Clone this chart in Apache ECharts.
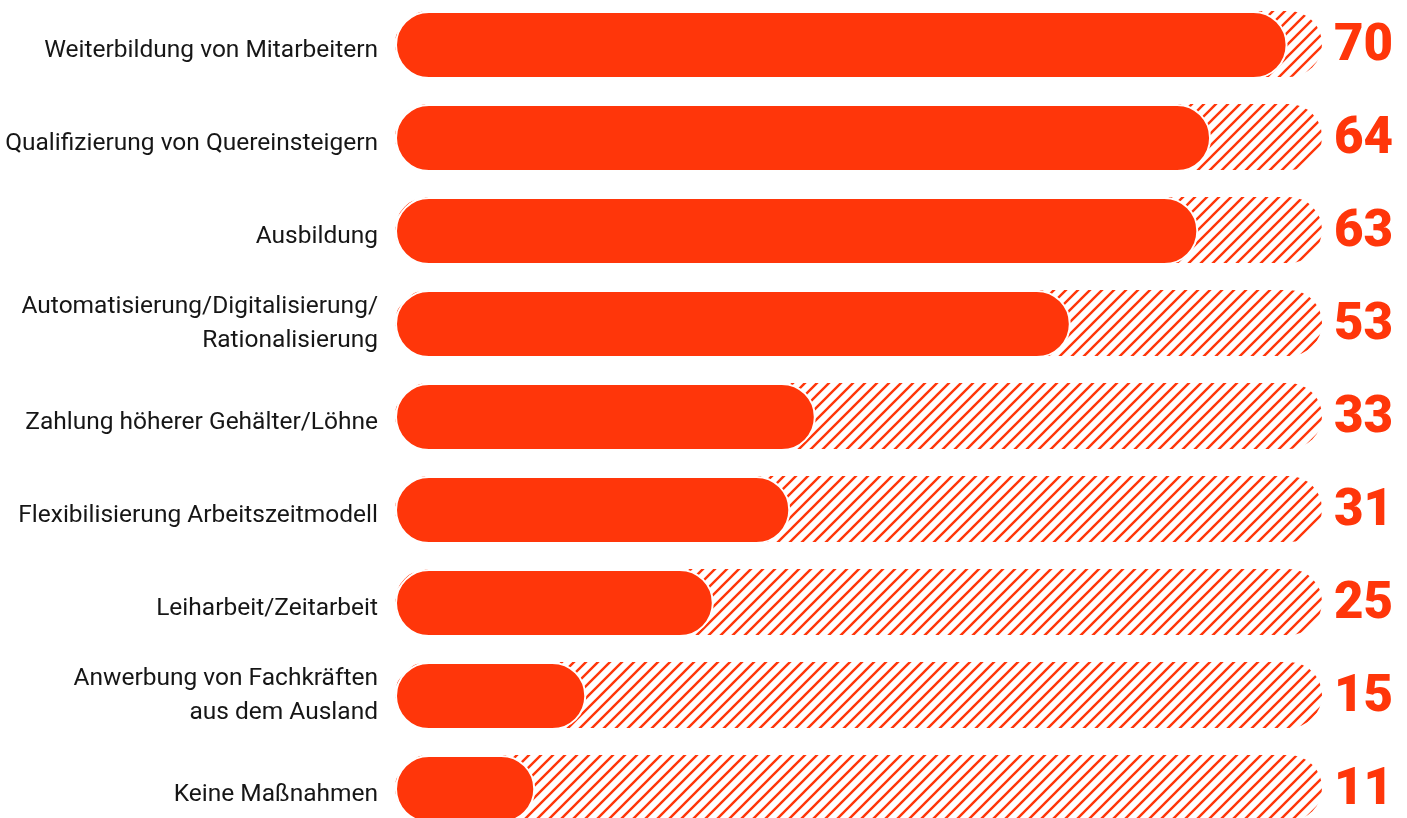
<!DOCTYPE html>
<html>
<head>
<meta charset="utf-8">
<script src="https://cdn.jsdelivr.net/npm/echarts@6/dist/echarts.min.js"></script>
<style>
  html, body { margin: 0; padding: 0; background: #ffffff; }
  #chart { width: 1407px; height: 818px; }
</style>
</head>
<body>
<div id="chart"></div>
<script>
// Maßnahmen gegen Fachkräftemangel, Anteil in Prozent
const categories = [
  'Weiterbildung von Mitarbeitern',
  'Qualifizierung von Quereinsteigern',
  'Ausbildung',
  'Automatisierung/Digitalisierung/\nRationalisierung',
  'Zahlung höherer Gehälter/Löhne',
  'Flexibilisierung Arbeitszeitmodell',
  'Leiharbeit/Zeitarbeit',
  'Anwerbung von Fachkräften\naus dem Ausland',
  'Keine Maßnahmen'
];
const values = [70, 64, 63, 53, 33, 31, 25, 15, 11];
const trackMax = 72.7;

const RED = '#ff360a';
const TEXT = '#161616';

// diagonal stripe tile for the track behind each bar
function stripePattern() {
  const s = 12;
  const c = document.createElement('canvas');
  c.width = s; c.height = s;
  const g = c.getContext('2d');
  g.fillStyle = '#ffffff';
  g.fillRect(0, 0, s, s);
  g.strokeStyle = RED;
  g.lineWidth = 2.4;
  g.beginPath();
  g.moveTo(0, s); g.lineTo(s, 0);
  g.moveTo(-2, 2); g.lineTo(2, -2);
  g.moveTo(s - 2, s + 2); g.lineTo(s + 2, s - 2);
  g.stroke();
  return c;
}

const chart = echarts.init(document.getElementById('chart'), null, { renderer: 'canvas' });
chart.setOption({
  animation: false,
  backgroundColor: '#ffffff',
  // category ticks sit on the grid edges (boundaryGap false): first row at top, last at bottom
  grid: {
    left: 395, width: 927, top: 45, bottom: 29,
    containLabel: false,
    outerBoundsMode: 'none'
  },
  xAxis: {
    type: 'value', min: 0, max: trackMax,
    show: false
  },
  yAxis: {
    type: 'category',
    data: categories,
    inverse: true,
    boundaryGap: false,
    axisLine: { show: false },
    axisTick: { show: false },
    splitLine: { show: false },
    axisLabel: {
      margin: 17,
      color: TEXT,
      fontFamily: 'Roboto',
      fontSize: 24.5,
      lineHeight: 34,
      align: 'right',
      // single-line names sit a little lower than the bar centre
      formatter: v => v.indexOf('\n') >= 0 ? v : '{s|' + v + '}',
      rich: {
        s: {
          color: TEXT,
          fontFamily: 'Roboto',
          fontSize: 24.5,
          padding: [11, 0, 0, 0]
        }
      }
    }
  },
  series: [
    {
      type: 'bar',
      data: categories.map(() => trackMax),
      barWidth: 66,
      barGap: '-100%',
      clip: false,
      silent: true,
      itemStyle: {
        color: { image: stripePattern(), repeat: 'repeat' },
        borderRadius: 33
      },
      label: {
        show: true,
        position: 'right',
        distance: 12,
        offset: [0, 3],
        formatter: p => String(values[p.dataIndex]),
        color: RED,
        fontFamily: 'Roboto',
        fontWeight: 900,
        fontSize: 51
      },
      z: 1
    },
    {
      type: 'bar',
      data: values,
      barWidth: 68,
      barGap: '-100%',
      clip: false,
      itemStyle: {
        color: RED,
        borderRadius: 34,
        borderColor: '#ffffff',
        borderWidth: 2
      },
      z: 2
    }
  ]
});
</script>
</body>
</html>
